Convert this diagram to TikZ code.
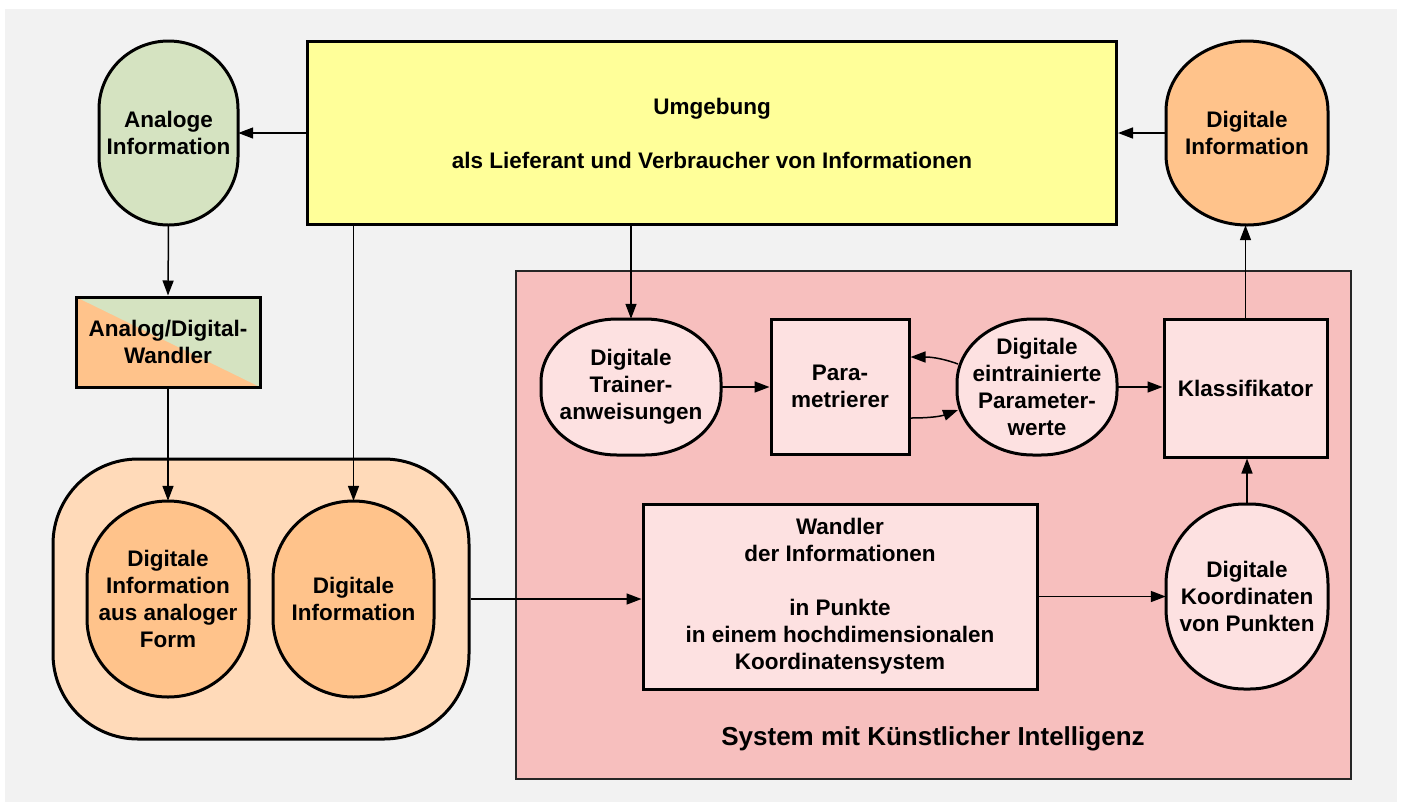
\documentclass[tikz,border=0pt]{standalone}
\usepackage{fontspec}
\setmainfont{Liberation Sans}
\usetikzlibrary{arrows.meta}

\definecolor{bggray}{HTML}{F2F2F2}
\definecolor{envyellow}{HTML}{FFFF99}
\definecolor{anagreen}{HTML}{D5E3C1}
\definecolor{digorange}{HTML}{FFC38B}
\definecolor{peach}{HTML}{FFDAB9}
\definecolor{syspink}{HTML}{F7BFBE}
\definecolor{lightpink}{HTML}{FDE1E1}

\tikzset{
  txt/.style={align=center, inner sep=0pt,
    font=\bfseries\fontsize{22.5}{27}\selectfont},
  box/.style={txt, draw, line width=3pt},
  blob/.style={box, rounded corners=#1},
  conn/.style={line width=1.5pt, -{Triangle[length=15pt,width=11pt]}},
}

% Oval outline with elliptic corners:
% centre x, centre y, width, height, corner x-radius, corner y-radius, fill
\newcommand\ovlshape[7]{%
  \pgfmathsetmacro\ovlL{#1-#3/2}\pgfmathsetmacro\ovlR{#1+#3/2}%
  \pgfmathsetmacro\ovlT{#2-#4/2}\pgfmathsetmacro\ovlB{#2+#4/2}%
  \pgfmathsetmacro\ovlXa{\ovlL+#5}\pgfmathsetmacro\ovlXb{\ovlR-#5}%
  \pgfmathsetmacro\ovlYa{\ovlT+#6}\pgfmathsetmacro\ovlYb{\ovlB-#6}%
  \pgfmathsetmacro\ovlKx{0.5523*#5}\pgfmathsetmacro\ovlKy{0.5523*#6}%
  \draw[line width=3pt, fill=#7]
    (\ovlXa,\ovlT) -- (\ovlXb,\ovlT)
    .. controls (\ovlXb+\ovlKx,\ovlT) and (\ovlR,\ovlYa-\ovlKy) .. (\ovlR,\ovlYa)
    -- (\ovlR,\ovlYb)
    .. controls (\ovlR,\ovlYb+\ovlKy) and (\ovlXb+\ovlKx,\ovlB) .. (\ovlXb,\ovlB)
    -- (\ovlXa,\ovlB)
    .. controls (\ovlXa-\ovlKx,\ovlB) and (\ovlL,\ovlYb+\ovlKy) .. (\ovlL,\ovlYb)
    -- (\ovlL,\ovlYa)
    .. controls (\ovlL,\ovlYa-\ovlKy) and (\ovlXa-\ovlKx,\ovlT) .. (\ovlXa,\ovlT)
    -- cycle;}

\begin{document}
\begin{tikzpicture}[x=1pt, y=-1pt]
  \useasboundingbox (0,0) rectangle (1401,807);
  \fill[bggray] (5,9) rectangle (1397,802);

  % environment and its exchanges
  \node[box, fill=envyellow, minimum width=809pt, minimum height=183pt] (umg) at (712,133)
    {Umgebung\\[27pt]als Lieferant und Verbraucher von Informationen};
  \ovlshape{168.5}{133}{139}{184}{69.5}{68}{anagreen}
  \node[txt, minimum width=139pt, minimum height=184pt] (ana) at (168.5,133)
    {Analoge\\Information};
  \ovlshape{1247}{133}{162}{184}{81}{70}{digorange}
  \node[txt, minimum width=162pt, minimum height=184pt] (dig) at (1247,133)
    {Digitale\\Information};

  % A/D converter with split fill
  \node[box, fill=digorange, minimum width=184pt, minimum height=90pt,
    path picture={\fill[anagreen] (path picture bounding box.north west)
      -- (path picture bounding box.north east)
      -- (path picture bounding box.south east) -- cycle;}] (ad) at (168,342)
    {Analog/Digital-\\Wandler};

  % container of digital inputs
  \node[blob=85pt, fill=peach, minimum width=416pt, minimum height=280pt] (cont) at (261,599) {};
  \ovlshape{168}{599}{162}{196}{81}{78}{digorange}
  \node[txt, minimum width=162pt, minimum height=196pt] (da) at (168,599)
    {Digitale\\Information\\aus analoger\\Form};
  \ovlshape{353.5}{599}{161}{196}{80.5}{78}{digorange}
  \node[txt, minimum width=161pt, minimum height=196pt] (di2) at (353.5,599)
    {Digitale\\Information};

  % AI system
  \node[draw=black!85, line width=2pt, fill=syspink, minimum width=835pt, minimum height=508pt,
    inner sep=0pt] (sys) at (933.5,525) {};
  \node[font=\bfseries\fontsize{26}{30}\selectfont, inner sep=0pt] (syslabel) at (933,739)
    {System mit Künstlicher Intelligenz};

  \ovlshape{631}{387}{180}{136}{76}{63}{lightpink}
  \node[txt, minimum width=180pt, minimum height=136pt] (tr) at (631,387)
    {Digitale\\Trainer-\\anweisungen};
  \node[box, fill=lightpink, minimum width=138pt, minimum height=135pt] (par) at (840,386.5)
    {Para-\\metrierer};
  \ovlshape{1037}{387}{160}{136}{76}{64}{lightpink}
  \node[txt, minimum width=160pt, minimum height=136pt] (eint) at (1037,387)
    {Digitale\\eintrainierte\\Parameter-\\werte};
  \node[box, fill=lightpink, minimum width=163pt, minimum height=138pt] (kla) at (1245.5,388)
    {Klassifikator};
  \node[box, fill=lightpink, minimum width=394pt, minimum height=185pt] (wand) at (840,596.5)
    {Wandler\\der Informationen\\[27pt]in Punkte\\in einem hochdimensionalen\\Koordinatensystem};
  \ovlshape{1247}{596.5}{162}{185}{78}{80}{lightpink}
  \node[txt, minimum width=162pt, minimum height=185pt] (koo) at (1247,596.5)
    {Digitale\\Koordinaten\\von Punkten};

  % connectors
  \draw[conn] (umg.west |- ana.east) -- (ana.east);
  \draw[conn] (dig.west) -- (dig.west -| umg.east);
  \draw[conn] (ana.south) -- (ad.north);
  \draw[conn] (ad.south) -- (da.north);
  \draw[conn] (di2.north |- umg.south) -- (di2.north);
  \draw[conn] (tr.north |- umg.south) -- (tr.north);
  \draw[conn] (cont.east) -- (cont.east -| wand.west);
  \draw[conn] (tr.east) -- (tr.east -| par.west);
  \draw[conn] ([shift={(-79,-23)}]eint.center) to[out=160, in=0] ([yshift=29.5pt]par.east);
  \draw[conn] ([yshift=-31.5pt]par.east) to[out=0, in=200] ([shift={(-79,23)}]eint.center);
  \draw[conn] (eint.east) -- (eint.east -| kla.west);
  \draw[conn] (kla.north) -- (kla.north |- dig.south);
  \draw[conn] (wand.east) -- (koo.west);
  \draw[conn] (koo.north) -- (koo.north |- kla.south);
\end{tikzpicture}
\end{document}
